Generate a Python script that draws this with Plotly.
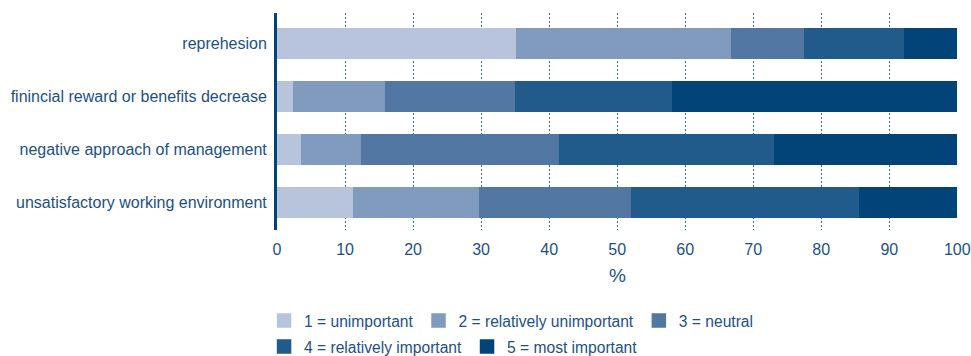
import plotly.graph_objects as go

categories = ["unsatisfactory working environment", "negative approach of management",
              "finincial reward or benefits decrease", "reprehesion"]
series_names = ["1 = unimportant", "2 = relatively unimportant", "3 = neutral",
                "4 = relatively important", "5 = most important"]
# values per category (same order as categories), percentages
s1 = [11.2, 3.5, 2.3, 35.1]
s2 = [18.5, 8.8, 13.6, 31.6]
s3 = [22.3, 29.1, 19.1, 10.8]
s4 = [33.6, 31.6, 23.1, 14.6]
s5 = [14.4, 27.0, 41.9, 7.9]
series = [s1, s2, s3, s4, s5]
colors = ["#b8c4dc", "#819bbf", "#5377a3", "#205b8c", "#034478"]
x_ticks = [0, 10, 20, 30, 40, 50, 60, 70, 80, 90, 100]
legend_rows = ["legend", "legend", "legend", "legend2", "legend2"]

TXT = "#1c5185"
FONT = "Liberation Sans, Arial, sans-serif"

fig = go.Figure()
for name, vals, c in zip(series_names, series, colors):
    fig.add_trace(go.Bar(y=categories, x=vals, name=name, orientation="h",
                         marker=dict(color=c, line=dict(width=0)),
                         legendgroup=name, showlegend=False))
# legend entries (no data) with slightly larger swatches
for name, c, lg in zip(series_names, colors, legend_rows):
    fig.add_trace(go.Bar(y=[None], x=[None], name=name, orientation="h",
                         marker=dict(color=c, line=dict(width=2.5, color=c)),
                         legendgroup=name, showlegend=True, legend=lg))

leg_common = dict(orientation="h", xanchor="left", yanchor="middle",
                  font=dict(size=15.6, color=TXT, family=FONT), traceorder="normal",
                  itemwidth=30, bgcolor="rgba(0,0,0,0)")
fig.update_layout(
    barmode="stack",
    bargap=0.415,
    width=971, height=356,
    margin=dict(l=277, r=13, t=13, b=126, autoexpand=False),
    paper_bgcolor="white", plot_bgcolor="white",
    font=dict(family=FONT, size=16, color=TXT),
    legend=dict(x=-0.019, y=-0.419, **leg_common),
    legend2=dict(x=-0.019, y=-0.539, **leg_common),
)
fig.update_xaxes(range=[0, 100.1], tickvals=x_ticks, showgrid=True, griddash="1.5px,2.5px",
                 gridcolor="#3a6ea8", gridwidth=1, zeroline=False, showline=False,
                 ticks="", ticklabelstandoff=8, title=dict(text="%", standoff=11),
                 tickfont=dict(size=16))
fig.update_yaxes(categoryorder="array", categoryarray=categories, range=[-0.52, 3.58],
                 showline=True, linecolor="#034478", linewidth=3, ticks="",
                 ticklabelstandoff=4, showgrid=False, tickfont=dict(size=16))

fig.write_html("out.html")
